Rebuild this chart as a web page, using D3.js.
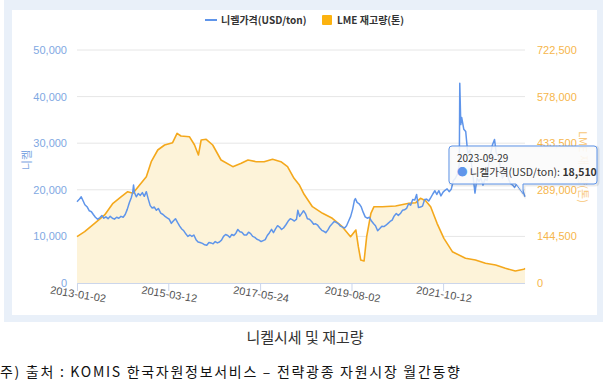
<!DOCTYPE html>
<html>
<head>
<meta charset="utf-8">
<script src="https://cdn.jsdelivr.net/npm/d3@7"></script>
<style>
  body { margin: 0; background: #fff; }
  svg { display: block; font-family: "Noto Sans CJK KR", "Noto Sans", sans-serif; }
</style>
</head>
<body>
<div id="chart"></div>
<script>
// nickel price (USD/ton)
var priceDates = ["2013-01-02","2013-01-20","2013-02-08","2013-02-25","2013-03-12","2013-04-02","2013-04-20","2013-05-08",
  "2013-05-25","2013-06-12","2013-07-01","2013-07-20","2013-08-08","2013-08-25","2013-09-12","2013-10-01",
  "2013-10-20","2013-11-08","2013-11-26","2013-12-15","2014-01-03","2014-01-22","2014-02-10","2014-02-28",
  "2014-03-18","2014-04-05","2014-04-22","2014-05-05","2014-05-12","2014-05-20","2014-06-05","2014-06-22",
  "2014-07-10","2014-07-28","2014-08-14","2014-09-01","2014-09-18","2014-10-05","2014-10-22","2014-11-10",
  "2014-11-28","2014-12-15","2015-01-05","2015-01-25","2015-02-12","2015-03-02","2015-03-20","2015-04-08",
  "2015-04-25","2015-05-14","2015-06-01","2015-06-20","2015-07-08","2015-07-26","2015-08-14","2015-08-30",
  "2015-09-18","2015-10-05","2015-10-22","2015-11-10","2015-11-28","2015-12-15","2016-01-05","2016-01-25",
  "2016-02-12","2016-03-02","2016-03-20","2016-04-08","2016-04-26","2016-05-15","2016-06-02","2016-06-20",
  "2016-07-08","2016-07-26","2016-08-14","2016-09-01","2016-09-18","2016-10-06","2016-10-24","2016-11-10",
  "2016-11-28","2016-12-15","2017-01-05","2017-01-25","2017-02-12","2017-03-02","2017-03-20","2017-04-08",
  "2017-04-26","2017-05-15","2017-06-02","2017-06-20","2017-07-08","2017-07-26","2017-08-14","2017-09-01",
  "2017-09-18","2017-10-06","2017-10-24","2017-11-10","2017-11-28","2017-12-15","2018-01-05","2018-01-25",
  "2018-02-12","2018-03-02","2018-03-20","2018-04-08","2018-04-19","2018-05-05","2018-05-25","2018-06-08",
  "2018-06-25","2018-07-12","2018-07-30","2018-08-18","2018-09-05","2018-09-22","2018-10-10","2018-10-28",
  "2018-11-15","2018-12-03","2018-12-20","2019-01-08","2019-01-26","2019-02-14","2019-03-04","2019-03-22",
  "2019-04-10","2019-04-28","2019-05-16","2019-06-03","2019-06-20","2019-07-08","2019-07-26","2019-08-12",
  "2019-08-28","2019-09-05","2019-09-20","2019-10-08","2019-10-25","2019-11-12","2019-11-30","2019-12-18",
  "2020-01-06","2020-01-24","2020-02-12","2020-02-28","2020-03-18","2020-04-06","2020-04-24","2020-05-12",
  "2020-05-30","2020-06-17","2020-07-05","2020-07-23","2020-08-10","2020-08-28","2020-09-15","2020-10-03",
  "2020-10-21","2020-11-08","2020-11-26","2020-12-14","2021-01-01","2021-01-19","2021-02-06","2021-02-22",
  "2021-03-10","2021-03-28","2021-04-15","2021-05-03","2021-05-20","2021-06-08","2021-06-26","2021-07-14",
  "2021-08-01","2021-08-18","2021-09-05","2021-09-23","2021-10-12","2021-10-29","2021-11-16","2021-12-04",
  "2021-12-22","2022-01-10","2022-01-28","2022-02-15","2022-03-03","2022-03-07","2022-03-16","2022-03-24",
  "2022-04-11","2022-04-28","2022-05-16","2022-06-03","2022-06-20","2022-07-08","2022-07-18","2022-08-05",
  "2022-08-22","2022-09-08","2022-09-26","2022-10-14","2022-11-01","2022-11-15","2022-12-01","2022-12-16",
  "2023-01-05","2023-01-20","2023-02-08","2023-02-25","2023-03-15","2023-04-03","2023-04-20","2023-05-08",
  "2023-05-26","2023-06-13","2023-06-30","2023-07-18","2023-08-05","2023-08-23","2023-09-10","2023-09-29"];
var priceValues = [17450,17900,18500,17600,16800,16300,15500,15300,
  14700,14100,13700,14000,14500,13900,14200,13800,
  14300,13900,13700,14100,13900,14300,14100,14700,
  15800,17200,18300,19500,21030,19400,18500,19200,
  18800,19400,18600,19600,18000,16600,16100,16300,
  15600,16000,15000,14700,14300,14000,13700,12800,
  13300,13800,13000,12200,11600,11200,10500,10000,
  10300,10000,10300,9300,8800,8700,8500,8200,
  8100,8700,8600,8400,8900,8600,8800,9200,
  10000,10400,10200,9800,10400,10200,10700,11500,
  11000,10900,10300,10300,10900,10600,10000,9800,
  9400,9200,8900,9100,9300,10200,10800,11500,
  10800,11600,12300,12000,11500,11800,12500,13300,
  13800,13600,13300,13700,15600,14300,15000,15500,
  14900,13800,13700,13200,12600,12700,12400,11800,
  11300,11100,10800,11400,12200,12700,13200,13000,
  12700,12200,12000,11800,12300,13300,14300,15800,
  17800,18100,17300,17000,16400,15200,14200,13900,
  14100,13300,12700,12300,11200,11700,12200,12100,
  12400,12800,13200,13500,14400,14900,14500,14900,
  15600,15700,16000,17000,16700,17900,17800,19000,
  16200,16300,16500,17900,18000,17600,18300,19100,
  19800,19000,19800,18700,19500,19900,20200,19600,
  20100,22000,22500,23400,25500,42860,34000,35500,
  33000,32500,27800,28500,25000,21500,19300,22500,
  21800,22500,21000,22300,22000,25500,27500,29500,
  30800,28000,27200,25000,22500,23300,24000,22300,
  21300,21000,20500,21200,20800,20100,19800,18510];

// LME stock (ton)
var stockDates = ["2013-01-02","2013-03-10","2013-06-05","2013-09-01","2013-11-13","2014-01-25","2014-03-22","2014-05-07",
  "2014-07-04","2014-09-01","2014-10-14","2014-12-10","2015-02-08","2015-04-19","2015-05-28","2015-07-01",
  "2015-09-13","2015-10-28","2015-12-01","2015-12-25","2016-02-07","2016-04-04","2016-06-16","2016-09-27",
  "2016-12-10","2017-02-07","2017-04-19","2017-06-28","2017-09-10","2017-11-22","2018-01-19","2018-03-17",
  "2018-05-01","2018-06-13","2018-08-25","2018-11-22","2019-02-15","2019-05-13","2019-07-25","2019-09-09",
  "2019-10-01","2019-10-22","2019-11-20","2019-12-13","2020-01-19","2020-02-15","2020-04-28","2020-08-22",
  "2020-12-17","2021-02-15","2021-03-28","2021-05-12","2021-06-25","2021-08-20","2021-10-19","2022-01-01",
  "2022-04-26","2022-07-22","2022-10-18","2023-01-15","2023-04-10","2023-07-06","2023-09-18","2023-09-29"];
var stockValues = [143600,159100,185100,210900,247100,267600,283100,278200,
  303900,329600,376200,412400,427900,435100,464200,455800,
  453700,427900,396900,443400,445600,427900,381400,360700,
  371200,381400,376200,376200,383600,376200,360700,324700,
  305000,275000,236600,216100,200600,174600,143600,164400,
  112600,71300,68200,143600,216100,236600,236600,238800,
  247100,249000,262600,255200,236600,185100,138600,97100,
  76600,71300,61100,55800,45600,37200,42500,45600];

var leftTicks = [0, 10000, 20000, 30000, 40000, 50000];
var rightTicks = [0, 144500, 289000, 433500, 578000, 722500];
var xTickLabels = ["2013-01-02", "2015-03-12", "2017-05-24", "2019-08-02", "2021-10-12"];

var seriesNames = ["니켈가격(USD/ton)", "LME 재고량(톤)"];
var tooltipDate = "2023-09-29";
var tooltipValue = 18510;

var width = 609, height = 390;
var blue = "#5f95ea", orange = "#f4a81c";
var parse = d3.timeParse("%Y-%m-%d");
var fmt = d3.format(",");

var price = priceDates.map(function(d, i) { return { date: parse(d), value: priceValues[i] }; });
var stock = stockDates.map(function(d, i) { return { date: parse(d), value: stockValues[i] }; });

var svg = d3.select("#chart").append("svg")
  .attr("width", width)
  .attr("height", height);

// frame
svg.append("rect").attr("x", 4).attr("y", 0).attr("width", 599).attr("height", 322).attr("fill", "#e9f0f9");
svg.append("rect").attr("x", 12).attr("y", 10).attr("width", 585).attr("height", 305).attr("fill", "#fff");

var xScale = d3.scaleTime()
  .domain([parse("2013-01-02"), parse("2023-09-29")])
  .range([77, 525]);
var yLeft = d3.scaleLinear().domain([0, 50000]).range([283, 50]);
var yRight = d3.scaleLinear().domain([0, 722500]).range([283, 50]);

// grid
svg.append("g").selectAll("line")
  .data(leftTicks.slice(1))
  .enter().append("line")
  .attr("x1", 77).attr("x2", 525)
  .attr("y1", d => yLeft(d)).attr("y2", d => yLeft(d))
  .attr("stroke", "#e6e6e6");

// left axis
var gl = svg.append("g").attr("transform", "translate(67,0)")
  .call(d3.axisLeft(yLeft).tickValues(leftTicks).tickFormat(fmt).tickSize(0).tickPadding(0));
gl.select(".domain").remove();
gl.selectAll("text").attr("fill", "#7fa8e2").style("font-size", "11px").attr("dy", "0.32em");

// right axis
var gr = svg.append("g").attr("transform", "translate(537,0)")
  .call(d3.axisRight(yRight).tickValues(rightTicks).tickFormat(fmt).tickSize(0).tickPadding(0));
gr.select(".domain").remove();
gr.selectAll("text").attr("fill", "#f6b64c").style("font-size", "11px").attr("dy", "0.32em");

// x axis
var gx = svg.append("g").attr("transform", "translate(0,283)")
  .call(d3.axisBottom(xScale).tickValues(xTickLabels.map(parse)).tickFormat(d3.timeFormat("%Y-%m-%d")).tickSize(8).tickPadding(4));
gx.select(".domain").attr("d", "M77,0.5H525").attr("stroke", "#ccd6eb");
gx.selectAll(".tick line").attr("stroke", "#ccd6eb");
gx.selectAll(".tick text")
  .attr("fill", "#555").style("font-size", "11px")
  .attr("y", 0).attr("dy", 0)
  .attr("transform", "translate(0,15) rotate(9)");

// axis titles
svg.append("text").attr("transform", "translate(31,160) rotate(-90)")
  .attr("text-anchor", "middle").attr("fill", "#7fa8e2").style("font-size", "11px").text("니켈");
svg.append("text").attr("transform", "translate(579,167) rotate(90)")
  .attr("text-anchor", "middle").attr("fill", "#f8c77a").style("font-size", "11px").text(seriesNames[1]);

// stock area + line
var area = d3.area().x(d => xScale(d.date)).y0(yRight(0)).y1(d => yRight(d.value));
var stockLine = d3.line().x(d => xScale(d.date)).y(d => yRight(d.value));
var priceLine = d3.line().x(d => xScale(d.date)).y(d => yLeft(d.value));

svg.append("path").attr("d", area(stock)).attr("fill", "#fdf3d9");
svg.append("path").attr("d", stockLine(stock)).attr("fill", "none")
  .attr("stroke", orange).attr("stroke-width", 1.6).attr("stroke-linejoin", "round");
svg.append("path").attr("d", priceLine(price)).attr("fill", "none")
  .attr("stroke", blue).attr("stroke-width", 1.5).attr("stroke-linejoin", "round");

// legend
var lg = svg.append("g").attr("transform", "translate(0,20)");
lg.append("line").attr("x1", 205).attr("x2", 217).attr("y1", 0).attr("y2", 0).attr("stroke", blue).attr("stroke-width", 2);
lg.append("text").attr("x", 221).attr("y", 4).attr("fill", "#333").style("font-size", "10px").style("font-weight", "bold").text(seriesNames[0]);
lg.append("rect").attr("x", 322).attr("y", -5).attr("width", 10).attr("height", 10).attr("rx", 1).attr("fill", "#fcb20f");
lg.append("text").attr("x", 337).attr("y", 4).attr("fill", "#333").style("font-size", "10px").style("font-weight", "bold").text(seriesNames[1]);

// tooltip at the last point
var px = xScale(parse(tooltipDate)), py = yLeft(tooltipValue);
var bx0 = 449, bx1 = 597, by0 = 146, by1 = 184, r = 3;
var tipPath = "M" + (bx0 + r) + "," + by0 + "H" + (bx1 - r) + "Q" + bx1 + "," + by0 + " " + bx1 + "," + (by0 + r) +
  "V" + (by1 - r) + "Q" + bx1 + "," + by1 + " " + (bx1 - r) + "," + by1 +
  "H" + (px - 2) + "L" + (px - 2) + "," + (py - 3) + "L" + (px - 9) + "," + by1 +
  "H" + (bx0 + r) + "Q" + bx0 + "," + by1 + " " + bx0 + "," + (by1 - r) +
  "V" + (by0 + r) + "Q" + bx0 + "," + by0 + " " + (bx0 + r) + "," + by0 + "Z";
svg.append("path").attr("d", tipPath).attr("transform", "translate(1,1)")
  .attr("fill", "none").attr("stroke", "rgba(0,0,0,0.08)").attr("stroke-width", 3);
svg.append("path").attr("d", tipPath).attr("fill", "rgba(250,250,250,0.88)").attr("stroke", blue).attr("stroke-width", 1);
svg.append("text").attr("x", 457).attr("y", 162).attr("fill", "#333").style("font-size", "10px").text(tooltipDate);
var t2 = svg.append("text").attr("x", 457).attr("y", 176).attr("fill", "#333").style("font-size", "10.5px");
t2.append("tspan").attr("fill", blue).text("● ");
t2.append("tspan").text(seriesNames[0] + ": ");
t2.append("tspan").style("font-weight", "bold").text(fmt(tooltipValue));

// caption + source
svg.append("text").attr("x", 305).attr("y", 343).attr("text-anchor", "middle")
  .attr("fill", "#333").style("font-size", "15px").text("니켈시세 및 재고량");
svg.append("text").attr("x", 0).attr("y", 377)
  .attr("fill", "#111").style("font-size", "14px")
  .attr("textLength", 460).attr("lengthAdjust", "spacing")
  .text("주) 출처 : KOMIS 한국자원정보서비스 – 전략광종 자원시장 월간동향");
</script>
</body>
</html>
